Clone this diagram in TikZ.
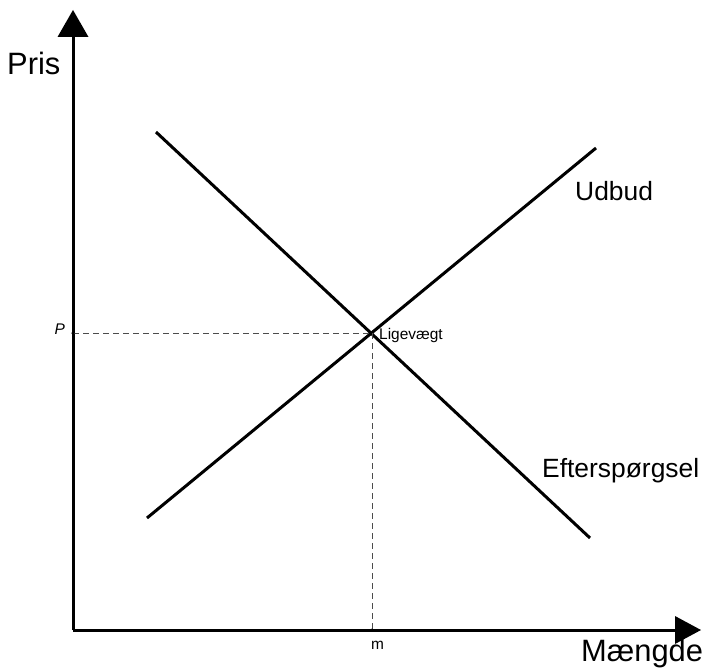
\documentclass[tikz,border=0pt]{standalone}
\usepackage{fontspec}
\setmainfont{Liberation Sans}
\begin{document}
\begin{tikzpicture}[x=1bp,y=-1bp,
  axis/.style={line width=3bp},
  curve/.style={line width=3bp},
  guide/.style={line width=1bp,black!70,dash pattern=on 6bp off 4bp},
  arrowhead/.style={fill=black},
  biglabel/.style={inner sep=0pt,font=\fontsize{31}{31}\selectfont},
  midlabel/.style={inner sep=0pt,font=\fontsize{26.5}{26.5}\selectfont},
  smalllabel/.style={inner sep=0pt,font=\fontsize{15.5}{15.5}\selectfont},
  dot/.style={circle,fill=black,inner sep=0pt,minimum size=3.5bp}]
\useasboundingbox (0,0) rectangle (709,669);
% axes
\coordinate (O) at (73,630);
\coordinate (ytip) at (73,10);
\coordinate (ybase) at (73,37);
\coordinate (xtip) at (701,630);
\coordinate (xbase) at (675,630);
\draw[axis] (O) -- (ybase);
\draw[axis] (O) -- (xbase);
\fill[arrowhead] (ytip) -- ([xshift=-15.5bp]ybase) -- ([xshift=15.5bp]ybase) -- cycle;
\fill[arrowhead] (xtip) -- ([yshift=-14bp]xbase) -- ([yshift=14bp]xbase) -- cycle;
% curves
\coordinate (s1) at (147,518);
\coordinate (s2) at (596,148);
\coordinate (d1) at (156,132);
\coordinate (d2) at (590,538);
\draw[curve] (s1) -- (s2);
\draw[curve] (d1) -- (d2);
% equilibrium
\coordinate (E) at (372,333);
\coordinate (Py) at (73,333);
\coordinate (Mx) at (372,630);
\draw[guide] (Py) -- (E);
\draw[guide] (E) -- (Mx);
\node[dot] (dP) at (Py) {};
\node[dot] (dM) at (Mx) {};
% labels
\node[biglabel,anchor=base west] (pris) at (7,75) {Pris};
\node[biglabel,anchor=base west] (maengde) at (581,661) {Mængde};
\node[midlabel,anchor=base west] (udbud) at (575,200) {Udbud};
\node[midlabel,anchor=base west] (eft) at (542,477) {Efterspørgsel};
\node[smalllabel,anchor=base west] (lig) at (379,339) {Ligevægt};
\node[smalllabel,anchor=base east] (p) at (65,334) {\itshape P};
\node[smalllabel,anchor=base west] (m) at (371,649) {m};
\end{tikzpicture}
\end{document}
